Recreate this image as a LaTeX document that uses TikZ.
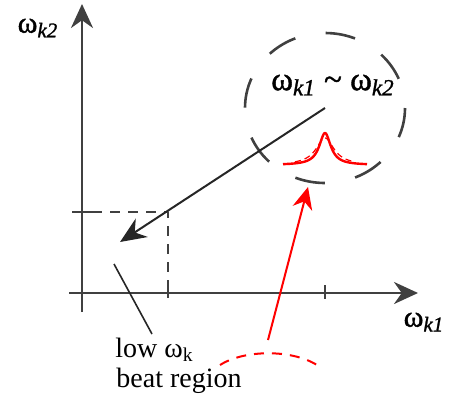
\documentclass[tikz,border=0pt]{standalone}
\usepackage{fontspec}
\setmainfont{Liberation Serif}
\newfontfamily\heavyserif[FakeBold=1.2]{Liberation Serif}
\usetikzlibrary{arrows.meta}
\newcommand{\omk}[1]{ω\textsubscript{\itshape #1}}
\tikzset{
  axis/.style={black!75, line width=1.4pt, -{Stealth[length=12pt,width=11pt]}},
  guide/.style={black!75, line width=1pt, dash pattern=on 5pt off 4pt},
  tick/.style={black!75, line width=1pt},
  reddash/.style={red, line width=1pt, dash pattern=on 5pt off 4pt},
  omlabel/.style={font=\fontsize{15}{17}\heavyserif\selectfont},
}
\begin{document}
\begin{tikzpicture}[x=0.5pt, y=-0.5pt, line join=round, font=\fontsize{14}{17}\selectfont]
  \useasboundingbox (0,0) rectangle (458,398);
  % axes
  \coordinate (xstart) at (69,293);
  \coordinate (xend) at (418,293);
  \coordinate (ystart) at (82,312);
  \coordinate (yend) at (82,4);
  \draw[axis] (xstart) -- (xend);
  \draw[axis] (ystart) -- (yend);
  \node[omlabel] (wk2) at (38,28) {\omk{k2}};
  \node[omlabel] (wk1) at (424,322) {\omk{k1}};
  % ticks and low beat corner
  \coordinate (ytick) at (72,212);
  \coordinate (corner) at (168,212);
  \coordinate (xtickA) at (168,298);
  \coordinate (xtickB) at (325,285);
  \draw[tick] (ytick) -- (92,212);
  \draw[tick] (168,285) -- (xtickA);
  \draw[tick] (xtickB) -- (325,299);
  \draw[guide] (92,212) -- (corner) -- (168,285);
  % equal frequency region
  \coordinate (hot) at (325,108);
  \draw[black!75, line width=1.3pt, dash pattern=on 15pt off 15.5pt]
    (hot) ellipse [x radius=80, y radius=75];
  \node[omlabel, font=\fontsize{16.5}{18}\heavyserif\selectfont] (eq) at (333,85) {\omk{k1} \textasciitilde{} \omk{k2}};
  % resonance peak
  \draw[reddash, line width=0.6pt, dash pattern=on 3pt off 2pt]
    plot[domain=-30:30, samples=80] ({325+\x}, {165-27/(1+(\x/11)^2)});
  \draw[red, line width=1.2pt]
    plot[domain=-42:42, samples=140] ({325+\x}, {165-32/(1+(\x/7)^2)});
  % down-shift arrow
  \coordinate (low) at (120,242);
  \draw[black!85, line width=1pt, -{Stealth[length=13pt,width=11pt]}] (hot) -- (low);
  % low beat label
  \coordinate (ptr) at (114,264);
  \coordinate (ptrend) at (152,334);
  \draw[black!85, line width=0.8pt] (ptr) -- (ptrend);
  \node[anchor=base west, inner sep=0pt] (lowlbl) at (115,357) {low ω\textsubscript{k}};
  \node[anchor=base west, inner sep=0pt] (beatlbl) at (116,387) {beat region};
  % red pointer
  \coordinate (src) at (268,340);
  \coordinate (dst) at (308,187);
  \draw[red, line width=1pt, -{Stealth[length=11pt,width=10pt]}] (src) -- (dst);
  \draw[reddash] (220,365) .. controls (245,349) and (295,349) .. (320,367);
\end{tikzpicture}
\end{document}
